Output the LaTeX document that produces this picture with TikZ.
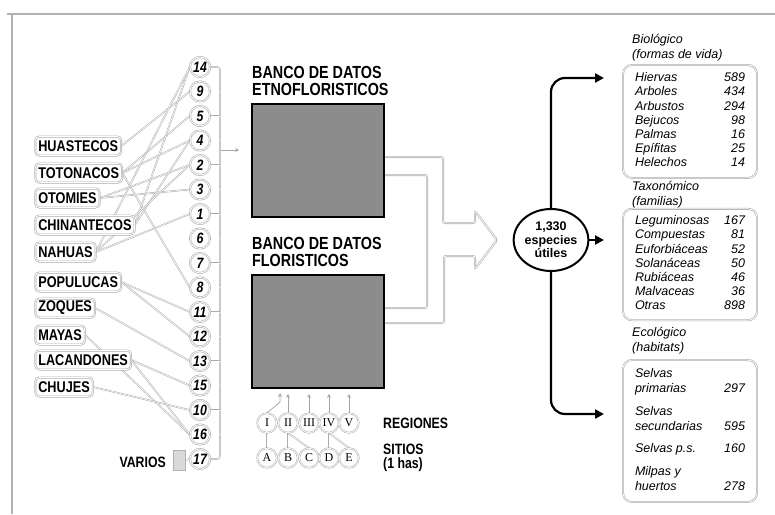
\documentclass[tikz,border=0pt]{standalone}
\usepackage{fontspec}
\setmainfont{Liberation Sans}
\newfontfamily\condfont[FakeStretch=0.82]{Liberation Sans}
\newfontfamily\serfont{Liberation Serif}
\usetikzlibrary{shapes.geometric,arrows.meta,backgrounds}
\tikzset{
  frame/.style={draw=gray!60, line width=1.6pt},
  grp/.style={draw=gray!65, double=white, double distance=0.8pt, line width=0.6pt, fill=white,
    rounded corners=4pt, anchor=west, inner xsep=3pt, inner ysep=0pt, minimum height=19pt,
    font=\condfont\bfseries\fontsize{15.5}{16}\selectfont},
  num/.style={circle, draw=gray!65, double=white, double distance=0.8pt, line width=0.6pt, fill=white,
    minimum size=20pt, inner sep=0pt, font=\condfont\bfseries\itshape\fontsize{15}{15}\selectfont},
  rgn/.style={circle, draw=gray!65, double=white, double distance=0.7pt, line width=0.5pt, fill=white,
    minimum size=19.5pt, inner sep=0pt, font=\serfont\fontsize{12}{12}\selectfont},
  link/.style={draw=gray!65, double=white, double distance=0.6pt, line width=0.5pt},
  flowline/.style={draw=gray!65, double=white, double distance=0.8pt, line width=0.6pt, rounded corners=2pt},
  smallarr/.style={draw=gray!70, line width=0.8pt, -{Stealth[length=4pt,width=4pt]}},
  bank/.style={draw=black, line width=1.6pt, fill=black!45, minimum width=132pt, minimum height=113pt, inner sep=0pt},
  bankttl/.style={anchor=north west, align=left, inner sep=0pt, font=\condfont\bfseries\fontsize{17.5}{17}\selectfont},
  lbl/.style={anchor=west, align=left, inner sep=0pt, font=\condfont\bfseries\fontsize{15}{14}\selectfont},
  blk/.style={line width=2.2pt, -{Triangle[length=9pt,width=9pt]}, rounded corners=14pt},
  rbox/.style={draw=gray!65, double=white, double distance=0.7pt, line width=0.6pt, rounded corners=9pt,
    minimum width=134pt, inner xsep=12pt, inner ysep=6pt, font=\itshape\fontsize{12.5}{14.2}\selectfont},
  rttl/.style={anchor=west, align=left, inner sep=0pt, font=\itshape\fontsize{12.5}{15}\selectfont}
}
\begin{document}
\begin{tikzpicture}[x=1pt,y=-1pt]
    \useasboundingbox (0,0) rectangle (775,514);
    \draw[frame] (7,14) -- (775,14);
    \draw[frame] (12,14) -- (12,514);

    \foreach \g/\y in {HUASTECOS/146, TOTONACOS/173, OTOMIES/198, CHINANTECOS/225, NAHUAS/252,
        POPULUCAS/282, ZOQUES/308, MAYAS/335, LACANDONES/360, CHUJES/387}
        \node[grp] (\g) at (35,\y) {\g};
    \node[lbl, anchor=east] (varios) at (166,462) {VARIOS};
    \node[draw=gray!60, fill=gray!30, minimum width=12pt, minimum height=20pt, inner sep=0pt] (vbox) at (179,460) {};

    \foreach \v [count=\i from 0] in {14,9,5,4,2,3,1,6,7,8,11,12,13,15,10,16,17}
        \node[num] (n\v) at (200,{67+24.5*\i}) {\v};
    \coordinate (bt) at (220,67);
    \coordinate (bb) at (220,459);
    \coordinate (bk) at (221,150);

    \node[bank] (etno) at (318,160.5) {};
    \node[bankttl] (etnot) at (252,66) {BANCO DE DATOS\\ETNOFLORISTICOS};
    \node[bank] (flor) at (318,331.5) {};
    \node[bankttl] (flort) at (252,237) {BANCO DE DATOS\\FLORISTICOS};

    \foreach \r/\x in {I/267, II/288, III/309, IV/329, V/349}
        \node[rgn] (r\r) at (\x,423) {\r};
    \foreach \s/\x in {A/267, B/288, C/309, D/329, E/349}
        \node[rgn] (s\s) at (\x,458) {\s};
    \node[lbl] (regl) at (383,423) {REGIONES};
    \node[lbl] (sitl) at (383,458) {SITIOS\\(1 has)};

    \node[ellipse, draw, line width=2pt, minimum width=70pt, minimum height=62pt, inner sep=0pt,
        align=center, font=\bfseries\fontsize{12.5}{13.5}\selectfont] (esp) at (551,240) {1,330\\especies\\útiles};
    \coordinate (tbio) at (604,78);
    \coordinate (ttax) at (604,240);
    \coordinate (teco) at (604,414);
    \draw[blk] (esp.north) |- (tbio);
    \draw[blk] (esp.east) -- (ttax);
    \draw[blk] (esp.south) |- (teco);

    \node[rttl] (bioT) at (632,47.5) {Biológico\\(formas de vida)};
    \node[rbox, minimum height=113pt] (bio) at (690,121.5) {\begin{tabular*}{110pt}{@{}l@{\extracolsep{\fill}}r@{}}
        Hiervas & 589\\ Arboles & 434\\ Arbustos & 294\\ Bejucos & 98\\ Palmas & 16\\ Epífitas & 25\\ Helechos & 14
        \end{tabular*}};
    \node[rttl] (taxT) at (632,195) {Taxonómico\\(familias)};
    \node[rbox, minimum height=105pt] (tax) at (690,264.5) {\begin{tabular*}{110pt}{@{}l@{\extracolsep{\fill}}r@{}}
        Leguminosas & 167\\ Compuestas & 81\\ Euforbiáceas & 52\\ Solanáceas & 50\\ Rubiáceas & 46\\ Malvaceas & 36\\ Otras & 898
        \end{tabular*}};
    \node[rttl] (ecoT) at (632,340.5) {Ecológico\\(habitats)};
    \node[rbox, minimum height=142pt, font=\itshape\fontsize{12.5}{15}\selectfont] (eco) at (690,431) {\begin{tabular*}{110pt}{@{}l@{\extracolsep{\fill}}r@{}}
        Selvas & \\ primarias & 297\\[7.5pt] Selvas & \\ secundarias & 595\\[7.5pt] Selvas p.s. & 160\\[7.5pt] Milpas y & \\ huertos & 278
        \end{tabular*}};

    \begin{pgfonlayer}{background}
        \foreach \a/\b in {HUASTECOS/9, TOTONACOS/5, TOTONACOS/4, TOTONACOS/8, OTOMIES/2, OTOMIES/3,
            CHINANTECOS/14, CHINANTECOS/4, NAHUAS/14, NAHUAS/1, NAHUAS/2, POPULUCAS/11, POPULUCAS/12,
            ZOQUES/13, MAYAS/16, LACANDONES/15, LACANDONES/16, CHUJES/10, vbox/17}
            \draw[link] (\a.east) -- (n\b.west);
        \draw[link, rounded corners=3pt] (n14.east) -- (bt) -- (bb) -- (n17.east);
        \foreach \v in {9,5,4,2,3,1,6,7,8,11,12,13,15,10,16}
            \draw[link] (n\v.east) -- (bt |- n\v.east);
        \draw[flowline] (384,157) -- (443,157) -- (443,223) -- (475,223) -- (475,211) -- (497,240)
            -- (475,269) -- (475,256) -- (444,256) -- (444,323) -- (384,323);
        \draw[flowline] (384,175) -- (427,175) -- (427,308) -- (384,308);
        \draw[link] (rI.south) -- (sA.north);
        \draw[link] (rII.south) -- (sB.north);
        \draw[link] (rII.south) -- (sC.north);
        \draw[link] (rIV.south) -- (sD.north);
        \draw[link] (rIV.south) -- (sE.north);
    \end{pgfonlayer}
    \draw[smallarr, shorten >=12pt] (bk) -- (bk -| etno.west);
    \draw[smallarr, shorten >=5pt] (rI.north) -- (280,402) -- (280,388);
    \foreach \r in {II,III,IV,V}
        \draw[smallarr, shorten >=5pt] (r\r.north) -- (r\r.north |- flor.south);
\end{tikzpicture}
\end{document}
